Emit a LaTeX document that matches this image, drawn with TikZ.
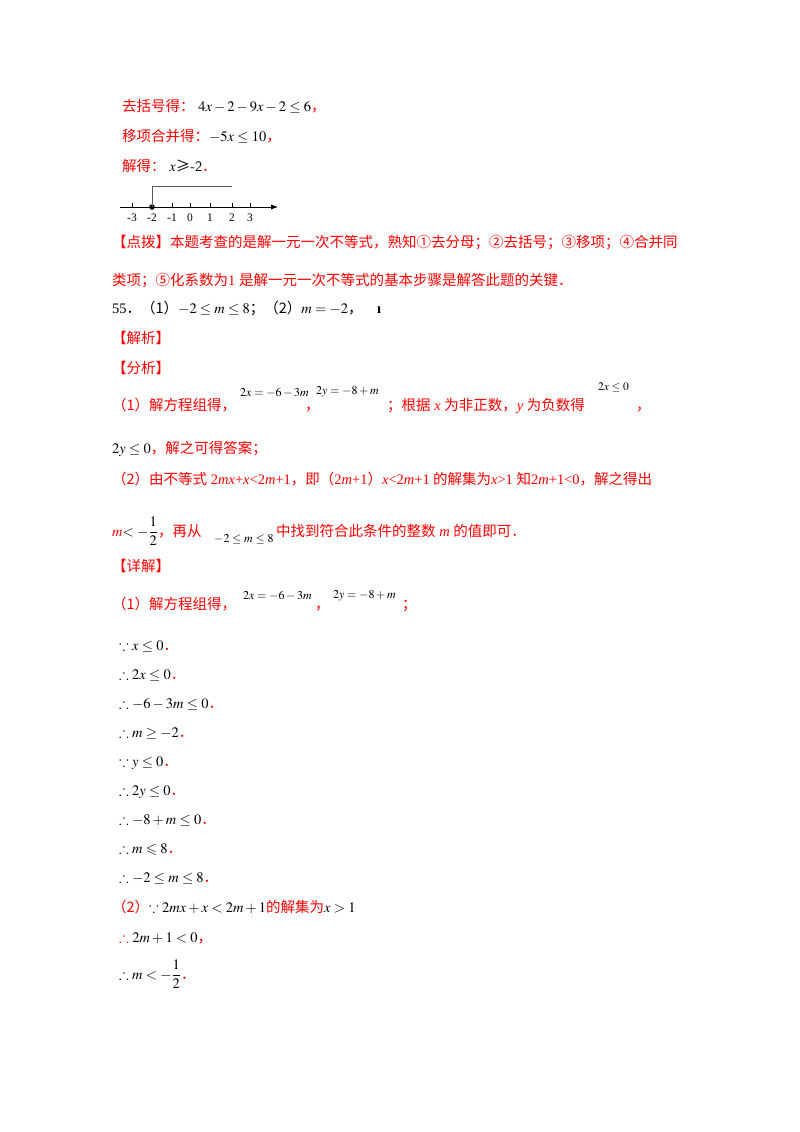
\documentclass[tikz,border=0pt]{standalone}
\usepackage{amsmath,amssymb}
\usepackage{mathptmx}
\usepackage{fontspec}
\setmainfont{Liberation Serif}
\newfontfamily\cjk{Noto Sans CJK SC}
\usetikzlibrary{arrows.meta}
\definecolor{rd}{RGB}{255,0,0}
\newcommand{\R}[1]{{\color{rd}\cjk #1}}
\newcommand{\M}[1]{\ensuremath{#1}}
\tikzset{t/.style={anchor=base west,inner sep=0pt,font=\fontsize{14.5}{16}\selectfont},
 sm/.style={anchor=base west,inner sep=0pt,font=\fontsize{12}{14}\selectfont},
 s/.style={anchor=base,inner sep=0pt,font=\fontsize{11.5}{13}\selectfont}}
\begin{document}
\begin{tikzpicture}[x=1pt,y=-1pt]
\useasboundingbox (0,0) rectangle (800,1132);
\node[t] (a1) at (122,111) {\R{去括号得：}\ \M{4x-2-9x-2\le 6}\R{，}};
\node[t] (a2) at (122,141) {\R{移项合并得：}\M{-5x\le 10}\R{，}};
\node[t] (a3) at (122,171) {\R{解得：}\ \M{x}{\cjk ≥}{\sffamily -2}\R{．}};
% number line
\coordinate (l0) at (120,207); \coordinate (l1) at (278,207);
\draw[-{Latex[length=7pt]},thick] (l0) -- (l1);
\foreach \v/\xx in {-3/132,-2/152,-1/172,0/190,1/210,2/232,3/250}{
 \draw (\xx,203) -- (\xx,207);
 \node[s] (n\xx) at (\xx,221) {\v};}
\fill (152,207) circle (2.8pt);
\draw[gray!70!black,thick] (152,207) -- (152,186) -- (232,186);
\node[t] (b1) at (112,247) {\R{【点拨】本题考查的是解一元一次不等式，熟知①去分母；②去括号；③移项；④合并同}};
\node[t] (b2) at (112,285) {\R{类项；⑤化系数为}{\color{rd} 1 }\R{是解一元一次不等式的基本步骤是解答此题的关键．}};
\node[t] (c0) at (112,313) {55{\cjk ．（1）}\M{-2\le m\le 8}{\cjk ；（2）}\M{m=-2}{\cjk ，}\quad\textbf{ı}};
\node[t] (c1) at (112,343) {\R{【解析】}};
\node[t] (c2) at (112,373) {\R{【分析】}};
\node[t] (d1) at (112,410) {\R{（1）解方程组得，}};
\node[sm] (d2) at (240,396) {\M{2x=-6-3m}};
\node[t] (d3) at (305,410) {\R{，}};
\node[sm] (d4) at (316,394) {\M{2y=-8+m}};
\node[t] (d5) at (387,410) {\R{；根据}{\color{rd}\itshape\ x\ }\R{为非正数，}{\color{rd}\itshape y\ }\R{为负数得}};
\node[anchor=base west,inner sep=0pt,font=\fontsize{11.5}{13}\selectfont] (d6) at (598,390) {\M{2x\le 0}};
\node[t] (d7) at (636,410) {\R{，}};
\node[t] (e1) at (112,453) {\M{2y\le 0}\R{，解之可得答案；}};
\node[t] (e2) at (112,484) {\R{（2）由不等式}{\color{rd}\ 2\textit{mx}+\textit{x}<2\textit{m}+1}\R{，即（}{\color{rd}2\textit{m}+1}\R{）}{\color{rd}\textit{x}<2\textit{m}+1}\R{ 的解集为}{\color{rd}\textit{x}>1 }\R{知}{\color{rd} 2\textit{m}+1<0}\R{，解之得出}};
\node[t] (f1) at (112,536) {{\color{rd}\M{m}}\M{<-\dfrac{1}{2}}\R{，再从}};
\node[sm] (f2) at (214,542) {\M{-2\le m\le 8}};
\node[t] (f3) at (276,536) {\R{中找到符合此条件的整数}{\color{rd}\itshape\ m\ }\R{的值即可．}};
\node[t] (g0) at (112,571) {\R{【详解】}};
\node[t] (g1) at (112,609) {\R{（1）解方程组得，}};
\node[sm] (g2) at (243,599) {\M{2x=-6-3m}};
\node[t] (g3) at (315,609) {\R{，}};
\node[sm] (g4) at (333,598) {\M{2y=-8+m}};
\node[t] (g5) at (402,609) {\R{；}};
\foreach \yy/\tx [count=\i] in {650/{\because x\le 0},679/{\therefore 2x\le 0},708/{\therefore -6-3m\le 0},737/{\therefore m\ge -2},766/{\because y\le 0},795/{\therefore 2y\le 0},824/{\therefore -8+m\le 0},853/{\therefore m\leqslant 8},882/{\therefore -2\le m\le 8}}
 \node[t] (h\i) at (119,\yy) {\M{\tx}\R{．}};
\node[t] (k1) at (112,912) {\R{（2）}\M{\because 2mx+x<2m+1}\R{的解集为}\M{x>1}};
\node[t] (k2) at (119,942) {{\color{rd}\M{\therefore}} \M{2m+1<0}\R{，}};
\node[t] (k3) at (119,979) {\M{\therefore m<-\dfrac{1}{2}}\R{．}};
\end{tikzpicture}
\end{document}
